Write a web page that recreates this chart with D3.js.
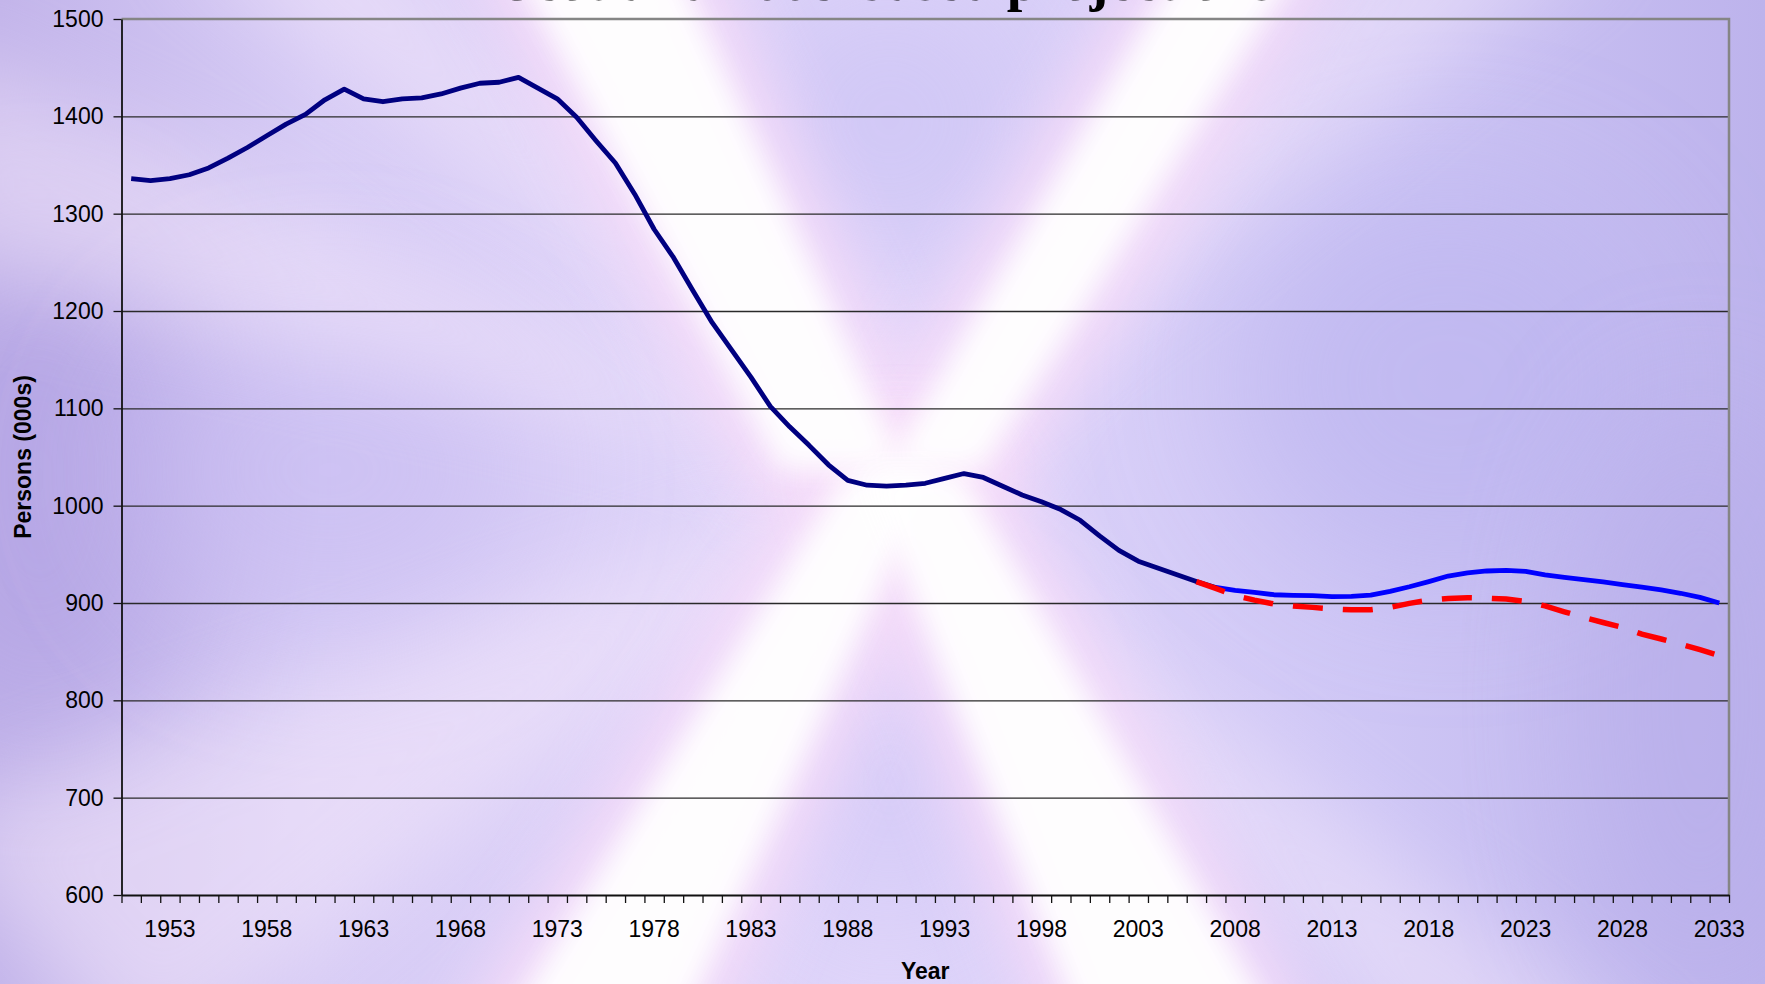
<!DOCTYPE html>
<html>
<head>
<meta charset="utf-8">
<script src="https://cdn.jsdelivr.net/npm/d3@7"></script>
<style>
	body { margin: 0; overflow: hidden; }
	#chart text { font-family: Arial, "Liberation Sans", sans-serif; fill: #000; }
</style>
</head>
<body>
<div id="chart"></div>
<script>
// categories: one per year, 1951 .. 2033
var years = d3.range(1951, 2034);
var tickYears = [1953, 1958, 1963, 1968, 1973, 1978, 1983, 1988, 1993, 1998, 2003, 2008, 2013, 2018, 2023, 2028, 2033];
var yTicks = [600, 700, 800, 900, 1000, 1100, 1200, 1300, 1400, 1500];

// estimates (000s)
var estimateYears = d3.range(1951, 2008);
var estimateValues = [1336, 1334, 1336, 1340, 1347, 1357, 1368, 1380, 1392, 1402,
	1417, 1428, 1418, 1415, 1418, 1419, 1423, 1429, 1434, 1435,
	1440, 1429, 1418, 1399, 1375, 1352, 1320, 1284, 1255, 1221,
	1188, 1160, 1132, 1102, 1081, 1062, 1042, 1026, 1021, 1020,
	1021, 1023, 1028, 1033, 1029, 1020, 1011, 1004, 996, 985,
	969, 954, 943, 936, 929, 922, 916];

// projection (solid blue)
var projYears = d3.range(2007, 2034);
var projValues = [916, 913, 911, 908.5, 907.8, 907.5, 906.5, 906.8, 908, 912,
	916.7, 922, 927.7, 931, 932.9, 933.5, 932.5, 929, 926.3, 924,
	921.6, 919, 916.4, 913.4, 910, 905.8, 900];

// earlier projection (dashed red)
var oldProjYears = d3.range(2006, 2034);
var oldProjValues = [922, 915, 907.5, 903, 899, 897, 895.5, 894, 893, 893,
	895.5, 899.6, 903, 904.7, 905.4, 905, 904, 901.6, 897, 891,
	885.2, 880, 875, 868, 863, 857.8, 852, 845.8];

(function() {
	var W = 1765, H = 984;
	var plotLeft = 121.5, plotRight = 1729, plotTop = 19, plotBottom = 895;

	var svg = d3.select('#chart').append('svg')
		.attr('width', W)
		.attr('height', H);

	// ---- background texture: lavender with a white "X" light burst
	var defs = svg.append('defs');
	var bgGrad = defs.append('linearGradient').attr('id', 'bgGrad')
		.attr('x1', 0).attr('y1', 0).attr('x2', 1).attr('y2', 0);
	[[0, '#c2b4ea'], [0.18, '#d6cbf5'], [0.5, '#e0d6fa'], [0.78, '#cec6f5'], [1, '#bdb3ec']].forEach(function(s) {
		bgGrad.append('stop').attr('offset', s[0]).attr('stop-color', s[1]);
	});
	function blur(id, sd) {
		defs.append('filter').attr('id', id)
			.attr('x', '-50%').attr('y', '-50%').attr('width', '200%').attr('height', '200%')
			.append('feGaussianBlur').attr('stdDeviation', sd);
	}
	blur('b14', 14);
	blur('b30', 30);
	blur('b45', 45);
	blur('b70', 70);

	var bg = svg.append('g').attr('class', 'bg');
	bg.append('rect').attr('width', W).attr('height', H).attr('fill', 'url(#bgGrad)');

	// darker blobs
	var blobs = [
		[40, 480, 160, 260, '#b4a4e4', 0.8],
		[330, 470, 200, 160, '#c8bcf2', 0.6],
		[890, 120, 150, 150, '#cbc2f4', 0.7],
		[1450, 380, 220, 200, '#bdb6f0', 0.7],
		[890, 780, 120, 160, '#d0c6f6', 0.6],
		[1700, 700, 120, 300, '#b8aeea', 0.7]
	];
	bg.selectAll('ellipse.blob').data(blobs).enter().append('ellipse')
		.attr('class', 'blob')
		.attr('cx', function(d) { return d[0]; })
		.attr('cy', function(d) { return d[1]; })
		.attr('rx', function(d) { return d[2]; })
		.attr('ry', function(d) { return d[3]; })
		.attr('fill', function(d) { return d[4]; })
		.attr('opacity', function(d) { return d[5]; })
		.attr('filter', 'url(#b70)');

	// faint rays
	var faint = [
		[[890, 480], [-80, 40], [-80, 260]],
		[[890, 480], [-80, 820], [150, 1080]],
		[[890, 480], [1420, 1080], [1680, 1080]],
		[[890, 480], [1380, -80], [1620, -80]],
		[[890, 480], [160, -80], [360, -80]]
	];
	bg.selectAll('polygon.faint').data(faint).enter().append('polygon')
		.attr('class', 'faint')
		.attr('points', function(d) { return d.join(' '); })
		.attr('fill', '#fbeefc')
		.attr('opacity', 0.45)
		.attr('filter', 'url(#b45)');

	// main arms of the X
	var arms = [
		[[500, -60], [665, -60], [905, 470], [780, 470]],
		[[1195, -60], [1315, -60], [982, 470], [885, 470]],
		[[847, 470], [935, 470], [670, 1050], [490, 1050]],
		[[863, 470], [960, 470], [1290, 1050], [1090, 1050]]
	];
	bg.selectAll('polygon.halo').data(arms).enter().append('polygon')
		.attr('class', 'halo')
		.attr('points', function(d) { return d.join(' '); })
		.attr('fill', '#f7dcf9')
		.attr('stroke', '#f7dcf9')
		.attr('stroke-width', 80)
		.attr('stroke-linejoin', 'round')
		.attr('opacity', 0.8)
		.attr('filter', 'url(#b30)');
	bg.selectAll('polygon.arm').data(arms).enter().append('polygon')
		.attr('class', 'arm')
		.attr('points', function(d) { return d.join(' '); })
		.attr('fill', '#ffffff')
		.attr('opacity', 0.95)
		.attr('filter', 'url(#b14)');

	// ---- scales
	var x = d3.scaleBand().domain(years).range([plotLeft, plotRight]).padding(0);
	var xEdge = d3.scaleLinear().domain([0, years.length]).range([plotLeft, plotRight]);
	var y = d3.scaleLinear().domain([600, 1500]).range([plotBottom, plotTop]);
	var cx = function(yr) { return x(yr) + x.bandwidth() / 2; };
	var font = 'Arial, "Liberation Sans", sans-serif';

	// gridlines
	svg.append('g')
		.attr('transform', 'translate(' + plotLeft + ',0)')
		.call(d3.axisLeft(y).tickValues(yTicks.slice(1, -1)).tickSize(-(plotRight - plotLeft)).tickFormat(''))
		.call(function(g) {
			g.select('.domain').remove();
			g.selectAll('line').attr('stroke', '#2a2a2a').attr('stroke-width', 1.3);
		});

	// plot border top / right (grey)
	svg.append('path')
		.attr('d', 'M' + plotLeft + ',' + y(1500) + 'H' + plotRight + 'V' + plotBottom)
		.attr('fill', 'none')
		.attr('stroke', '#858585')
		.attr('stroke-width', 2.5);

	// y axis
	svg.append('g')
		.attr('transform', 'translate(' + plotLeft + ',0)')
		.call(d3.axisLeft(y).tickValues(yTicks).tickSize(8).tickPadding(10).tickSizeOuter(0).tickFormat(d3.format('d')))
		.call(function(g) {
			g.select('.domain').attr('stroke', '#111').attr('stroke-width', 1.8);
			g.selectAll('line').attr('stroke', '#111').attr('stroke-width', 1.3);
			g.selectAll('text').attr('font-size', 23).attr('font-family', font);
		});

	// x axis: ticks at category edges, labels every 5 years
	svg.append('g')
		.attr('transform', 'translate(0,' + plotBottom + ')')
		.call(d3.axisBottom(xEdge).tickValues(d3.range(years.length + 1)).tickSize(8).tickFormat('').tickSizeOuter(0))
		.call(function(g) {
			g.select('.domain').attr('stroke', '#111').attr('stroke-width', 2.2);
			g.selectAll('line').attr('stroke', '#111').attr('stroke-width', 1.3);
		});
	svg.append('g')
		.attr('transform', 'translate(0,' + plotBottom + ')')
		.call(d3.axisBottom(x).tickValues(tickYears).tickSize(0).tickPadding(26))
		.call(function(g) {
			g.select('.domain').remove();
			g.selectAll('text').attr('font-size', 23).attr('font-family', font);
		});

	// axis titles
	svg.append('text')
		.attr('x', (plotLeft + plotRight) / 2)
		.attr('y', 979)
		.attr('text-anchor', 'middle')
		.attr('font-size', 23)
		.attr('font-weight', 'bold')
		.text('Year');
	svg.append('text')
		.attr('transform', 'translate(31,' + (plotTop + plotBottom) / 2 + ') rotate(-90)')
		.attr('text-anchor', 'middle')
		.attr('font-size', 23)
		.attr('font-weight', 'bold')
		.text('Persons (000s)');

	// chart title, mostly above the top of the frame
	svg.append('text')
		.attr('x', 888)
		.attr('y', 0)
		.attr('text-anchor', 'middle')
		.attr('font-size', 56)
		.attr('font-weight', 'bold')
		.style('font-family', '"Liberation Serif", "Times New Roman", serif')
		.text('Scotland 2008-based projections');

	// ---- lines
	var line = d3.line()
		.x(function(d) { return cx(d[0]); })
		.y(function(d) { return y(d[1]); });

	svg.append('path')
		.datum(d3.zip(projYears, projValues))
		.attr('d', line)
		.attr('fill', 'none')
		.attr('stroke', '#0000ff')
		.attr('stroke-width', 4.8)
		.attr('stroke-linejoin', 'round');

	svg.append('path')
		.datum(d3.zip(estimateYears, estimateValues))
		.attr('d', line)
		.attr('fill', 'none')
		.attr('stroke', '#000080')
		.attr('stroke-width', 4.8)
		.attr('stroke-linejoin', 'round');

	svg.append('path')
		.datum(d3.zip(oldProjYears, oldProjValues))
		.attr('d', line)
		.attr('fill', 'none')
		.attr('stroke', '#ff0000')
		.attr('stroke-width', 5.5)
		.attr('stroke-dasharray', '30,20');
})();
</script>
</body>
</html>
